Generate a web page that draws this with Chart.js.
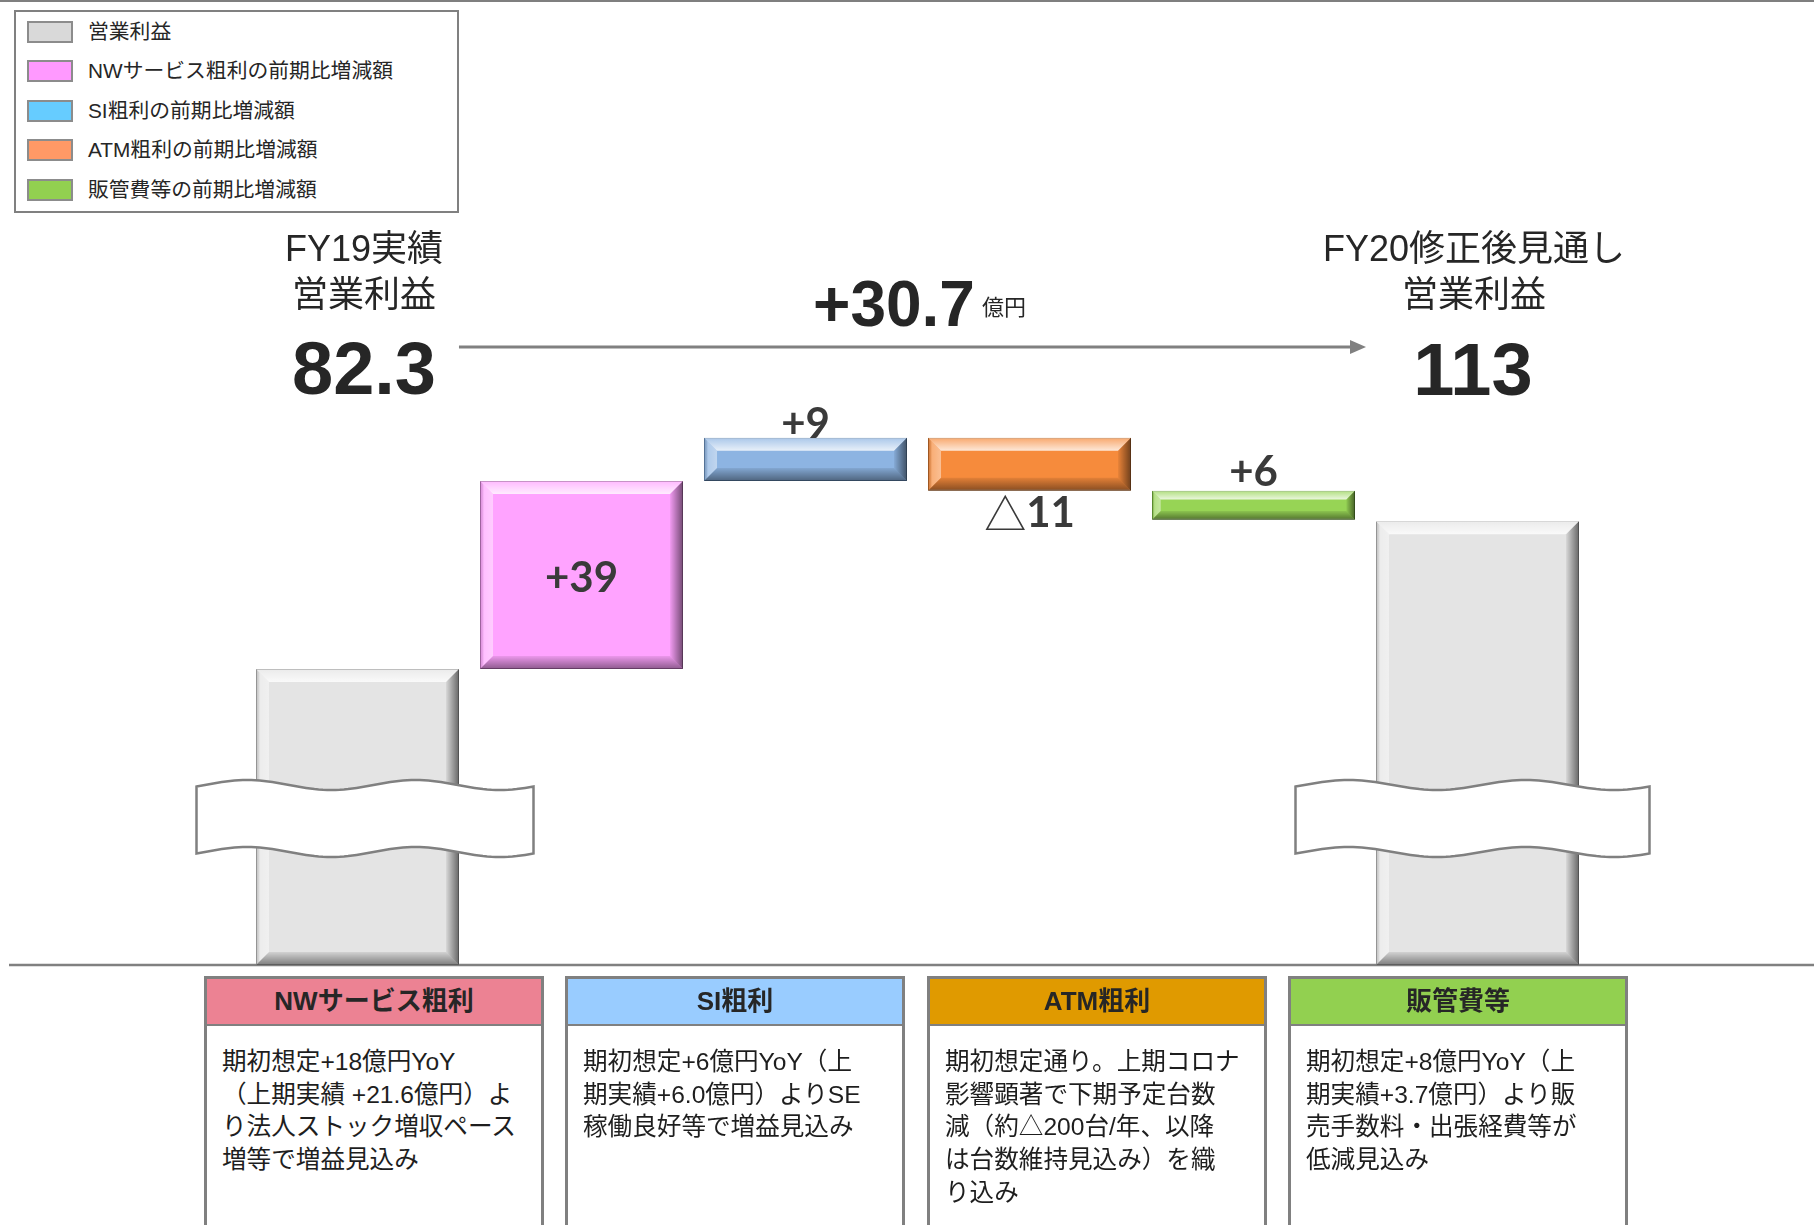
<!DOCTYPE html>
<html lang="ja">
<head>
<meta charset="utf-8">
<title>営業利益 増減要因</title>
<script src="https://cdn.jsdelivr.net/npm/chart.js@4.4.1/dist/chart.umd.min.js"></script>
<style>
  html, body { margin: 0; padding: 0; background: #fff; }
  body {
    width: 1814px; height: 1225px; overflow: hidden; position: relative;
    font-family: "Liberation Sans", "Noto Sans CJK JP", sans-serif; color: #262626;
  }
  #chart { position: absolute; left: 0; top: 0; }
  .top-rule { position: absolute; left: 0; top: 0; width: 1814px; height: 2px; background: #7f7f7f; }

  #legend {
    position: absolute; left: 14px; top: 10px; width: 445px; height: 203px;
    box-sizing: border-box; border: 2px solid #808080; background: #fff;
  }
  .legend-item { position: absolute; left: 0; height: 22px; width: 430px; }
  .legend-item .sw {
    position: absolute; left: 11px; top: 0; width: 46px; height: 22px;
    box-sizing: border-box; border: 2px solid #8c8c8c;
  }
  .legend-item .txt {
    position: absolute; left: 72px; top: 0; line-height: 22px; font-size: 20.8px; white-space: nowrap;
  }

  .title {
    position: absolute; width: 400px; text-align: center;
    font-size: 36px; line-height: 46px; white-space: nowrap;
  }
  .big {
    position: absolute; width: 300px; text-align: center;
    font-weight: bold; font-size: 74px; line-height: 74px; color: #262626;
  }
  #change { position: absolute; left: 813px; top: 272px; font-weight: bold; font-size: 64px; line-height: 64px; }
  #unit { position: absolute; left: 982px; top: 297px; font-size: 22px; line-height: 22px; }

  .box {
    position: absolute; top: 976px; width: 340px; height: 300px;
    box-sizing: border-box; border: 3px solid #808080; background: #fff;
  }
  .box .head {
    height: 45px; line-height: 45px; text-align: center; font-weight: bold; font-size: 26px;
    border-bottom: 2px solid #808080;
  }
  .box .body {
    padding: 20px 6px 0 15px; font-size: 24.6px; line-height: 32.7px; white-space: nowrap; color: #1e1e1e;
  }
</style>
</head>
<body>
<div class="top-rule"></div>
<canvas id="chart" width="1814" height="1225"></canvas>

<div id="legend"></div>

<div class="title" style="left:164px; top:226px;">FY19実績<br>営業利益</div>
<div class="title" style="left:1274px; top:226px;">FY20修正後見通し<br>営業利益</div>
<div class="big" id="startVal" style="left:214px; top:332px;"></div>
<div class="big" id="endVal" style="left:1323px; top:333px;"></div>
<div id="change"></div>
<div id="unit">億円</div>

<div id="boxes"></div>

<script>
// 営業利益ブリッジ (億円)
const categories = ['FY19実績', 'NWサービス粗利', 'SI粗利', 'ATM粗利', '販管費等', 'FY20修正後見通し'];
const seriesNames = ['営業利益', 'NWサービス粗利の前期比増減額', 'SI粗利の前期比増減額', 'ATM粗利の前期比増減額', '販管費等の前期比増減額'];
const startProfit = 82.3;
const endProfit = 113;
const deltas = [39, 9, -11, -6];            // effect on operating profit
const deltaLabels = ['+39', '+9', '△11', '+6'];
const axisMin = 20.9;                        // broken axis, bars start here
const axisMax = 140;

// colours
const barColors = ['#E4E4E4', '#FFA3FF', '#8DB4E2', '#F68B3C', '#97D455'];
const barEdges = ['#A6A6A6', '#B26AB2', '#5A7EA8', '#B25C1C', '#5E982B'];
const swatchColors = ['#D9D9D9', '#FF99FF', '#66CCFF', '#FF9966', '#92D050'];
const labelPos = ['inside', 'above', 'below', 'above'];
const labelNudge = [2, 0, 0, -5];

// explanation boxes
const boxTitles = ['NWサービス粗利', 'SI粗利', 'ATM粗利', '販管費等'];
const boxColors = ['#EC8293', '#99CCFF', '#E09A00', '#92D050'];
const boxLines = [
    ['期初想定+18億円YoY', '（上期実績 +21.6億円）よ', 'り法人ストック増収ペース', '増等で増益見込み'],
    ['期初想定+6億円YoY（上', '期実績+6.0億円）よりSE', '稼働良好等で増益見込み'],
    ['期初想定通り。上期コロナ', '影響顕著で下期予定台数', '減（約△200台/年、以降', 'は台数維持見込み）を織', 'り込み'],
    ['期初想定+8億円YoY（上', '期実績+3.7億円）より販', '売手数料・出張経費等が', '低減見込み']
];

// Texts
document.getElementById('startVal').textContent = String(startProfit);
document.getElementById('endVal').textContent = String(endProfit);
document.getElementById('change').textContent = '+' + (endProfit - startProfit).toFixed(1);

// Legend
const legendEl = document.getElementById('legend');
seriesNames.forEach((name, i) => {
    const item = document.createElement('div');
    item.className = 'legend-item';
    item.style.top = (31.5 + i * 39.6 - 12 - 11) + 'px';
    item.innerHTML = '<span class="sw" style="background:' + swatchColors[i] + '"></span><span class="txt"></span>';
    item.querySelector('.txt').textContent = name;
    legendEl.appendChild(item);
});

// Boxes
const boxesEl = document.getElementById('boxes');
boxTitles.forEach((title, i) => {
    const box = document.createElement('div');
    box.className = 'box';
    box.style.left = Math.round(204 + i * 361.3) + 'px';
    const head = document.createElement('div');
    head.className = 'head';
    head.style.background = boxColors[i];
    head.textContent = title;
    const body = document.createElement('div');
    body.className = 'body';
    boxLines[i].forEach((line, k) => {
        if (k) body.appendChild(document.createElement('br'));
        body.appendChild(document.createTextNode(line));
    });
    box.appendChild(head);
    box.appendChild(body);
    boxesEl.appendChild(box);
});

// Waterfall ranges
let level = startProfit;
const deltaRanges = deltas.map(d => {
    const r = [level, level + d];
    level += d;
    return r;
});

const datasets = seriesNames.map((name, i) => {
    const data = categories.map(() => null);
    if (i === 0) {
        data[0] = startProfit;
        data[categories.length - 1] = endProfit;
    } else {
        data[i] = deltaRanges[i - 1];
    }
    const ds = {
        label: name,
        data: data,
        backgroundColor: barColors[i],
        borderColor: barEdges[i],
        borderWidth: 1,
        borderSkipped: false,
        barPercentage: 0.906,
        categoryPercentage: 1,
        grouped: false
    };
    if (i === 0) ds.base = axisMin;   // totals stand on the broken axis
    return ds;
});

function fillPoly(ctx, pts, style) {
    ctx.beginPath();
    pts.forEach((p, k) => k ? ctx.lineTo(p[0], p[1]) : ctx.moveTo(p[0], p[1]));
    ctx.closePath();
    ctx.fillStyle = style;
    ctx.fill();
}

function barBox(bar) {
    const p = bar.getProps(['x', 'y', 'base', 'width'], true);
    return {
        l: p.x - p.width / 2, r: p.x + p.width / 2,
        t: Math.min(p.y, p.base), b: Math.max(p.y, p.base), cx: p.x
    };
}

// Baseline + arrow
const framePlugin = {
    id: 'frame',
    beforeDatasetsDraw(chart) {
        const ctx = chart.ctx;
        const y = chart.chartArea.bottom;
        ctx.save();
        ctx.strokeStyle = '#808080';
        ctx.lineWidth = 2.5;
        ctx.beginPath();
        ctx.moveTo(9, y);
        ctx.lineTo(chart.width, y);
        ctx.stroke();
        ctx.restore();
    },
    afterDraw(chart) {
        const ctx = chart.ctx;
        const meta = chart.getDatasetMeta(0);
        const first = barBox(meta.data[0]);
        const last = barBox(meta.data[categories.length - 1]);
        const y = chart.chartArea.top - 44;
        const x0 = first.r, x1 = last.l - 10;
        ctx.save();
        ctx.strokeStyle = '#808080';
        ctx.lineWidth = 3;
        ctx.beginPath();
        ctx.moveTo(x0, y);
        ctx.lineTo(x1 - 14, y);
        ctx.stroke();
        fillPoly(ctx, [[x1, y], [x1 - 16, y - 7], [x1 - 16, y + 7]], '#808080');
        ctx.restore();
    }
};

// Bevel look on every bar
const bevelPlugin = {
    id: 'bevel',
    afterDatasetsDraw(chart) {
        const ctx = chart.ctx;
        const area = chart.chartArea;
        ctx.save();
        ctx.beginPath();
        ctx.rect(area.left - 20, area.top - 20, area.right - area.left + 40, area.bottom - area.top + 21);
        ctx.clip();
        chart.data.datasets.forEach((ds, di) => {
            chart.getDatasetMeta(di).data.forEach((bar, j) => {
                if (ds.data[j] == null) return;
                const { l, r, t, b } = barBox(bar);
                const s = Math.min(13, (b - t) * 0.3);

                let g = ctx.createLinearGradient(0, t, 0, t + s);
                g.addColorStop(0, 'rgba(255,255,255,0.25)');
                g.addColorStop(1, 'rgba(255,255,255,0.8)');
                fillPoly(ctx, [[l, t], [r, t], [r - s, t + s], [l + s, t + s]], g);

                g = ctx.createLinearGradient(l, 0, l + s, 0);
                g.addColorStop(0, 'rgba(0,0,0,0.12)');
                g.addColorStop(0.3, 'rgba(255,255,255,0.3)');
                g.addColorStop(1, 'rgba(255,255,255,0.45)');
                fillPoly(ctx, [[l, t], [l + s, t + s], [l + s, b - s], [l, b]], g);

                g = ctx.createLinearGradient(r - s, 0, r, 0);
                g.addColorStop(0, 'rgba(0,0,0,0.05)');
                g.addColorStop(1, 'rgba(0,0,0,0.55)');
                fillPoly(ctx, [[r, t], [r, b], [r - s, b - s], [r - s, t + s]], g);

                g = ctx.createLinearGradient(0, b - s, 0, b);
                g.addColorStop(0, 'rgba(0,0,0,0.08)');
                g.addColorStop(1, 'rgba(0,0,0,0.45)');
                fillPoly(ctx, [[l, b], [r, b], [r - s, b - s], [l + s, b - s]], g);
            });
        });
        ctx.restore();
    }
};

// Wavy axis-break bands on the two total bars
const breakOffsets = [[-161, 176], [-182, 172]];
const breakPlugin = {
    id: 'axisBreak',
    afterDatasetsDraw(chart) {
        const ctx = chart.ctx;
        const meta = chart.getDatasetMeta(0);
        const idx = [0, categories.length - 1];
        const T = chart.chartArea.bottom - 180, H = 67, A = 5, steps = 80;
        const wave = t => A * Math.sin(4 * Math.PI * t - 1.1 * Math.PI);
        ctx.save();
        idx.forEach((j, k) => {
            const box = barBox(meta.data[j]);
            const L = box.cx + breakOffsets[k][0], R = box.cx + breakOffsets[k][1], W = R - L;
            ctx.beginPath();
            for (let n = 0; n <= steps; n++) {
                const t = n / steps;
                n ? ctx.lineTo(L + t * W, T + wave(t)) : ctx.moveTo(L, T + wave(0));
            }
            for (let n = steps; n >= 0; n--) {
                const t = n / steps;
                ctx.lineTo(L + t * W, T + H + wave(t));
            }
            ctx.closePath();
            ctx.fillStyle = '#ffffff';
            ctx.fill();
            ctx.strokeStyle = '#808080';
            ctx.lineWidth = 2.5;
            ctx.stroke();
        });
        ctx.restore();
    }
};

// Value labels for the change bars
const labelPlugin = {
    id: 'deltaLabels',
    afterDatasetsDraw(chart) {
        const ctx = chart.ctx;
        const capH = 30;
        ctx.save();
        ctx.fillStyle = '#3a3a3a';
        ctx.textBaseline = 'alphabetic';
        deltas.forEach((d, i) => {
            const bar = chart.getDatasetMeta(i + 1).data[i + 1];
            const { t, b, cx } = barBox(bar);
            let y;
            if (labelPos[i] === 'inside') y = (t + b) / 2 + capH / 2;
            else if (labelPos[i] === 'above') y = t;
            else y = b + 6 + capH;
            y += labelNudge[i];

            const text = deltaLabels[i];
            const boldFont = 'bold 42px Lato, "Noto Sans CJK JP", sans-serif';
            const triFont = '42px "Noto Sans CJK JP", sans-serif';
            if (text.startsWith('△')) {
                const tri = '△', rest = text.slice(1);
                ctx.font = triFont;
                const w1 = ctx.measureText(tri).width;
                ctx.font = boldFont;
                const w2 = ctx.measureText(rest).width;
                const x0 = cx - (w1 + w2) / 2;
                ctx.textAlign = 'left';
                ctx.font = triFont;
                ctx.fillText(tri, x0, y + 3);
                ctx.font = boldFont;
                ctx.fillText(rest, x0 + w1, y);
            } else {
                ctx.font = boldFont;
                ctx.textAlign = 'center';
                ctx.fillText(text, cx, y);
            }
        });
        ctx.restore();
    }
};

new Chart(document.getElementById('chart'), {
    type: 'bar',
    data: { labels: categories, datasets: datasets },
    options: {
        responsive: false,
        animation: false,
        events: [],
        layout: { padding: { left: 245.5, right: 224.5, top: 391, bottom: 260 } },
        scales: {
            x: { display: false },
            y: { display: false, min: axisMin, max: axisMax }
        },
        plugins: {
            legend: { display: false },
            tooltip: { enabled: false }
        }
    },
    plugins: [framePlugin, bevelPlugin, breakPlugin, labelPlugin]
});
</script>
</body>
</html>
